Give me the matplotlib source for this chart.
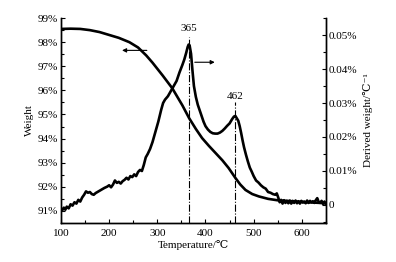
import matplotlib
matplotlib.use("Agg")
import matplotlib.pyplot as plt
from matplotlib.ticker import MultipleLocator, FuncFormatter

plt.rcParams['font.family'] = ['Liberation Serif', 'DejaVu Serif', 'DejaVu Sans']
plt.rcParams['font.size'] = 8

# Weight (TG) curve, %
tg_temp = [100, 120, 140, 160, 180, 200, 220, 242, 260, 277, 290, 311, 331, 352, 366,
           380, 393, 407, 421, 435, 448, 462, 472, 483, 497, 511, 530, 550, 580, 610, 650]
tg_weight = [98.55, 98.56, 98.55, 98.5, 98.42, 98.3, 98.18, 98.0, 97.78, 97.45, 97.15,
             96.62, 96.09, 95.38, 94.85, 94.4, 94.02, 93.7, 93.4, 93.1, 92.78, 92.37,
             92.1, 91.87, 91.7, 91.6, 91.5, 91.44, 91.4, 91.36, 91.32]

# Derived weight (DTG) curve, %/°C
dtg_temp = [100, 103, 106, 109, 112, 116, 120, 124, 128, 132, 136, 140, 144, 148, 152, 156,
            160, 164, 168, 172, 178, 184, 190, 196, 200, 204, 208, 212, 216, 220, 224, 228,
            232, 236, 240, 244, 248, 252, 256, 260, 264, 268, 272, 276, 280, 285, 290, 296,
            302, 308, 312, 316, 322, 328, 334, 340, 346, 352, 356, 360, 363, 365, 367, 370,
            373, 376, 380, 384, 388, 392, 396, 400, 405, 410, 415, 420, 425, 430, 435, 440,
            445, 450, 455, 459, 462, 465, 468, 471, 474, 477, 480, 484, 488, 492, 496, 500,
            505, 510, 515, 520, 525, 530, 535, 540, 545, 548, 551, 554, 557, 560, 563, 566,
            569, 572, 575, 578, 581, 584, 587, 590, 593, 596, 599, 602, 605, 608, 611, 614,
            617, 620, 623, 626, 629, 632, 635, 638, 641, 644, 647, 650]
dtg_value = [-0.0010, -0.0015, -0.0008, -0.0014, -0.0005, -0.0010, 0.0002, -0.0002, 0.0008,
             0.0004, 0.0015, 0.0010, 0.0022, 0.0030, 0.0040, 0.0036, 0.0038, 0.0032, 0.0030,
             0.0035, 0.0040, 0.0045, 0.0050, 0.0054, 0.0058, 0.0052, 0.0060, 0.0072, 0.0065,
             0.0068, 0.0063, 0.0070, 0.0074, 0.0080, 0.0075, 0.0085, 0.0082, 0.0090, 0.0085,
             0.0097, 0.0103, 0.0100, 0.0118, 0.0140, 0.0150, 0.0165, 0.0185, 0.0215, 0.0245,
             0.0280, 0.0300, 0.0310, 0.0320, 0.0335, 0.0350, 0.0365, 0.0390, 0.0412, 0.0428,
             0.0448, 0.0465, 0.0472, 0.0470, 0.0445, 0.0395, 0.0350, 0.0318, 0.0295, 0.0278,
             0.0262, 0.0245, 0.0232, 0.0222, 0.0215, 0.0211, 0.0210, 0.0210, 0.0213, 0.0218,
             0.0225, 0.0233, 0.0240, 0.0252, 0.0260, 0.0262, 0.0255, 0.0248, 0.0232, 0.0212,
             0.0190, 0.0170, 0.0148, 0.0128, 0.0110, 0.0098, 0.0085, 0.0072, 0.0066, 0.0058,
             0.0052, 0.0048, 0.0038, 0.0036, 0.0032, 0.0030, 0.0034, 0.0022, 0.0008, 0.0015,
             0.0004, 0.0014, 0.0006, 0.0012, 0.0005, 0.0013, 0.0004, 0.0012, 0.0006, 0.0013,
             0.0005, 0.0011, 0.0004, 0.0012, 0.0007, 0.0010, 0.0005, 0.0013, 0.0006, 0.0012,
             0.0008, 0.0011, 0.0006, 0.0014, 0.0020, 0.0009, 0.0006, 0.0012, 0.0003, 0.0010,
             0.0002]

peak_temps = [365, 462]
peak_line_tops = [0.0494, 0.0303]
peak_label_y = [0.0518, 0.0320]

fig = plt.figure(figsize=(3.96, 2.62), dpi=100)
ax1 = fig.add_axes([0.154, 0.149, 0.669, 0.782])
ax2 = ax1.twinx()

lw = 1.9
ax1.plot(tg_temp, tg_weight, color='black', lw=lw)
ax2.plot(dtg_temp, dtg_value, color='black', lw=lw)

ax1.set_xlim(100, 650)
ax1.set_ylim(90.5, 99.0)
ax2.set_ylim(-0.0053, 0.055)

for t, top, ly in zip(peak_temps, peak_line_tops, peak_label_y):
    ax2.plot([t, t], [-0.0053, top], color='black', lw=0.8, ls='-.')
    ax2.text(t, ly, str(t), ha='center', va='center', fontsize=8)

ax1.annotate('', xy=(221, 97.66), xytext=(284, 97.66),
             arrowprops=dict(arrowstyle='-|>', lw=0.8, color='black', mutation_scale=6))
ax2.annotate('', xy=(425, 0.042), xytext=(372, 0.042),
             arrowprops=dict(arrowstyle='-|>', lw=0.8, color='black', mutation_scale=6))

for ax in (ax1, ax2):
    ax.spines['top'].set_visible(False)
    for s in ax.spines.values():
        s.set_linewidth(1.0)

ax1.xaxis.set_major_locator(MultipleLocator(100))
ax1.xaxis.set_minor_locator(MultipleLocator(50))
ax1.yaxis.set_major_locator(MultipleLocator(1))
ax1.yaxis.set_minor_locator(MultipleLocator(0.5))
ax1.yaxis.set_major_formatter(FuncFormatter(lambda v, p: f"{v:.0f}%"))
ax2.yaxis.set_major_locator(MultipleLocator(0.01))
ax2.yaxis.set_minor_locator(MultipleLocator(0.005))
ax2.yaxis.set_major_formatter(FuncFormatter(lambda v, p: "0" if abs(v) < 1e-9 else f"{v:.2f}%"))

ax1.tick_params(axis='both', which='major', direction='in', length=3, width=0.8, labelsize=8, pad=2)
ax1.tick_params(axis='both', which='minor', direction='in', length=2, width=0.8)
ax1.tick_params(axis='x', which='major', pad=4)
ax1.tick_params(top=False, which='both')
ax2.tick_params(axis='y', which='major', direction='in', length=3, width=0.8, labelsize=8, pad=2)
ax2.tick_params(axis='y', which='minor', direction='in', length=2, width=0.8)

ax1.set_xlabel('Temperature/℃', fontsize=8, labelpad=2)
ax1.set_ylabel('Weight', fontsize=8, labelpad=3)
ax2.set_ylabel('Derived weight/℃⁻¹', fontsize=8, labelpad=4)

fig.savefig('out.png', dpi=100)
